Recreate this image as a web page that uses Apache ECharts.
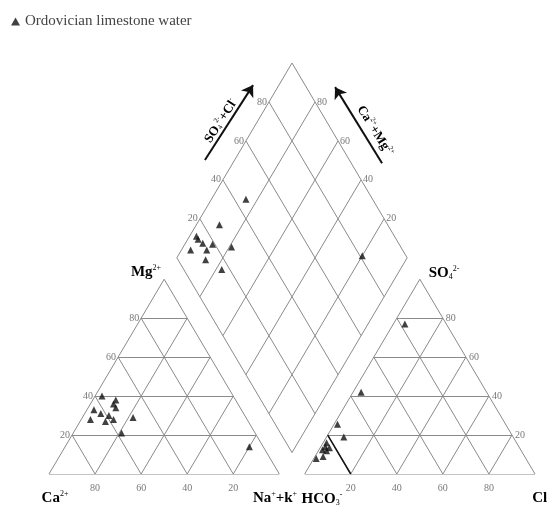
<!DOCTYPE html>
<html>
<head>
<meta charset="UTF-8">
<title></title>
<script src="https://cdn.jsdelivr.net/npm/echarts@6/dist/echarts.min.js" type="text/javascript" charset="utf-8"></script>
<style type="text/css">
* { margin: 0; padding: 0; }
#app { width: 547px; height: 506px; background: #fff; }
</style>
</head>
<body>
<div id="app"></div>
<script type="text/javascript">
// tick values shown on every axis
var ticks = [20, 40, 60, 80];

// cation triangle, percent (Na+K = 100 - Ca - Mg)
var cationCa = [57, 52, 54, 54, 64, 62, 59, 68, 62, 58, 49, 58, 6];
var cationMg = [40, 38, 36, 34, 33, 31, 30, 28, 27, 28, 29, 21, 14];

// anion triangle, percent (HCO3 = 100 - SO4 - Cl)
var anionSO4 = [77, 42, 25.5, 19, 14, 12.5, 12, 13.5, 16, 8, 9];
var anionCl = [5, 3.5, 1.5, 7.5, 2, 1.5, 3.5, 4, 1.5, 1, 3.5];

// diamond, percent
var diamondSO4Cl = [45, 27, 14, 14, 15, 19, 8, 15, 26.5, 12, 16.5, 81];
var diamondCaMg = [85, 90, 97, 95.5, 92.5, 88, 96, 89, 79, 87, 77.5, 20];

var seriesName = 'Ordovician limestone water';

var GAP = 11, H = Math.sqrt(3) / 2;
function cat(ca, mg) { return [100 - ca - mg + mg / 2, H * mg]; }
function ani(so4, cl) { return [100 + GAP + cl + so4 / 2, H * so4]; }
function dia(p, q) { var a = 100 - q, b = 100 + GAP + p; return [(a + b) / 2, H * (b - a)]; }

var gridLines = [];
function seg(p1, p2) { gridLines.push({ coords: [p1, p2] }); }
// outlines
seg(cat(100, 0), cat(0, 0)); seg(cat(0, 0), cat(0, 100)); seg(cat(0, 100), cat(100, 0));
seg(ani(0, 0), ani(0, 100)); seg(ani(0, 100), ani(100, 0)); seg(ani(100, 0), ani(0, 0));
seg(dia(0, 0), dia(0, 100)); seg(dia(0, 100), dia(100, 100)); seg(dia(100, 100), dia(100, 0)); seg(dia(100, 0), dia(0, 0));
ticks.forEach(function (t) {
	seg(cat(100 - t, t), cat(0, t));
	seg(cat(100 - t, 0), cat(0, 100 - t));
	seg(cat(t, 0), cat(t, 100 - t));
	seg(ani(t, 0), ani(t, 100 - t));
	seg(ani(0, t), ani(100 - t, t));
	seg(ani(0, 100 - t), ani(100 - t, 0));
	seg(dia(t, 0), dia(t, 100));
	seg(dia(0, t), dia(100, t));
});

var points = [];
cationCa.forEach(function (c, i) { points.push(cat(c, cationMg[i])); });
anionSO4.forEach(function (s, i) { points.push(ani(s, anionCl[i])); });
diamondSO4Cl.forEach(function (p, i) { points.push(dia(p, diamondCaMg[i])); });

function tickSeries(fn, pos, dist) {
	return {
		type: 'scatter', symbolSize: 0, silent: true, z: 3,
		data: ticks.map(function (t) { return { value: fn(t), tick: t }; }),
		label: {
			show: true, position: pos, distance: dist,
			formatter: function (p) { return p.data.tick; },
			fontFamily: 'Liberation Serif', fontSize: 10, color: '#555'
		}
	};
}

var serif = 'Liberation Serif';
var rich = {
	b: { fontFamily: serif, fontWeight: 'bold', fontSize: 15, color: '#222' },
	sup: { fontFamily: serif, fontSize: 8, color: '#222', padding: [0, 0, 9, 0] },
	sub: { fontFamily: serif, fontSize: 8, color: '#222', padding: [7, 0, 0, 0] },
	a: { fontFamily: serif, fontWeight: 'bold', fontSize: 13, color: '#222' },
	asup: { fontFamily: serif, fontSize: 7, color: '#222', padding: [0, 0, 8, 0] },
	asub: { fontFamily: serif, fontSize: 7, color: '#222', padding: [6, 0, 0, 0] }
};
function txt(x, y, text, rot) {
	return {
		type: 'text', x: x, y: y, rotation: rot || 0, silent: true,
		style: { text: text, rich: rich, align: 'center', verticalAlign: 'middle' }
	};
}

var myChart = echarts.init(document.getElementById('app'));
var option = {
	animation: false,
	legend: {
		data: [seriesName], left: 6, top: 9, icon: 'triangle',
		itemWidth: 9, itemHeight: 8, itemGap: 4,
		textStyle: { fontFamily: serif, fontSize: 15, color: '#444' }
	},
	grid: { left: 49, right: 12, top: 63, bottom: 32 },
	xAxis: { type: 'value', min: 0, max: 200 + GAP, show: false },
	yAxis: { type: 'value', min: 0, max: H * (200 + GAP), show: false },
	graphic: [
		txt(55, 498, '{b|Ca}{sup|2+}'),
		txt(275, 498, '{b|Na}{sup|+}{b|+k}{sup|+}'),
		txt(322, 499, '{b|HCO}{sub|3}{sup|-}'),
		txt(541, 498, '{b|Cl}{sup|-}'),
		txt(146, 272, '{b|Mg}{sup|2+}'),
		txt(444, 273, '{b|SO}{sub|4}{sup|2-}'),
		txt(221, 121, '{a|SO}{asub|4}{asup|2-}{a|+Cl}{asup|-}', 1.0),
		txt(375, 131, '{a|Ca}{asup|2+}{a|+Mg}{asup|2+}', -1.01)
	],
	series: [
		{
			type: 'lines', coordinateSystem: 'cartesian2d', silent: true, z: 1,
			lineStyle: { color: '#8a8a8a', width: 1, opacity: 1 },
			data: gridLines
		},
		{
			type: 'lines', coordinateSystem: 'cartesian2d', silent: true, z: 2,
			lineStyle: { color: '#111', width: 1.5, opacity: 1 },
			data: [{ coords: [ani(0, 20), ani(20, 0)] }]
		},
		{
			type: 'lines', coordinateSystem: 'cartesian2d', silent: true, z: 2,
			symbol: ['none', 'arrow'], symbolSize: 11,
			lineStyle: { color: '#111', width: 2, opacity: 1 },
			data: [
				{ coords: [[67.7, 139.6], [88.6, 172.9]] },
				{ coords: [[144.6, 138.2], [124.2, 172.0]] }
			]
		},
		tickSeries(function (t) { return cat(100 - t, t); }, 'left', 2),
		tickSeries(function (t) { return cat(t, 0); }, 'bottom', 9),
		tickSeries(function (t) { return ani(0, t); }, 'bottom', 9),
		tickSeries(function (t) { return ani(t, 100 - t); }, 'right', 3),
		tickSeries(function (t) { return dia(t, 100); }, 'left', 2),
		tickSeries(function (t) { return dia(100, t); }, 'right', 2),
		{
			name: seriesName, type: 'scatter', z: 5,
			symbol: 'triangle', symbolSize: 7,
			itemStyle: { color: '#111' },
			data: points
		}
	]
};
myChart.setOption(option);
</script>
</body>
</html>
